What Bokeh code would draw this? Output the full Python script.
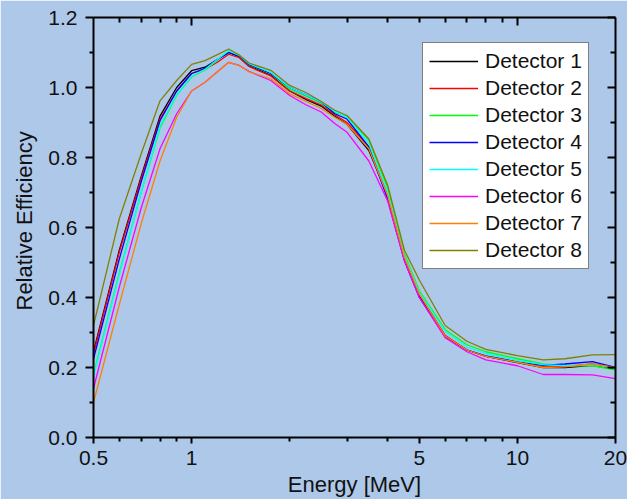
from bokeh.plotting import figure
from bokeh.models import (Range1d, LogAxis, LinearAxis, FixedTicker, CustomJSTickFormatter,
                          PrintfTickFormatter, Legend, LegendItem, Title)
from bokeh.embed import file_html
from bokeh.resources import INLINE

energy = [0.5, 0.6, 0.7, 0.8, 0.9, 1.0, 1.1, 1.2, 1.3, 1.4, 1.5, 1.75, 2.0, 2.25, 2.5, 2.75,
          3.0, 3.5, 4.0, 4.5, 5.0, 6.0, 7.0, 8.0, 10.0, 12.0, 14.0, 17.0, 20.0]

det1 = [0.245, 0.535, 0.745, 0.918, 1.000, 1.048, 1.058, 1.080, 1.100, 1.088, 1.062, 1.035, 0.990, 0.965, 0.947, 0.918,
        0.895, 0.820, 0.690, 0.510, 0.405, 0.290, 0.250, 0.232, 0.214, 0.200, 0.200, 0.206, 0.195]
det2 = [0.240, 0.530, 0.740, 0.910, 0.990, 1.040, 1.052, 1.072, 1.095, 1.085, 1.060, 1.033, 0.990, 0.968, 0.950, 0.922,
        0.900, 0.830, 0.690, 0.515, 0.410, 0.292, 0.250, 0.232, 0.216, 0.202, 0.203, 0.210, 0.200]
det3 = [0.180, 0.470, 0.700, 0.885, 0.978, 1.030, 1.050, 1.078, 1.105, 1.090, 1.065, 1.040, 0.995, 0.975, 0.955, 0.928,
        0.918, 0.850, 0.712, 0.525, 0.420, 0.308, 0.265, 0.245, 0.225, 0.210, 0.205, 0.205, 0.193]
det4 = [0.225, 0.510, 0.730, 0.905, 0.990, 1.040, 1.055, 1.080, 1.100, 1.090, 1.066, 1.040, 1.000, 0.978, 0.958, 0.925,
        0.910, 0.830, 0.680, 0.505, 0.400, 0.288, 0.250, 0.233, 0.216, 0.206, 0.210, 0.217, 0.200]
det5 = [0.175, 0.465, 0.700, 0.890, 0.980, 1.032, 1.052, 1.080, 1.105, 1.092, 1.068, 1.043, 1.000, 0.978, 0.958, 0.932,
        0.915, 0.840, 0.700, 0.520, 0.415, 0.303, 0.258, 0.240, 0.220, 0.208, 0.205, 0.208, 0.198]
det6 = [0.140, 0.430, 0.655, 0.825, 0.925, 0.990, 1.015, 1.045, 1.072, 1.063, 1.046, 1.020, 0.977, 0.950, 0.930, 0.897,
        0.872, 0.790, 0.675, 0.505, 0.400, 0.285, 0.245, 0.222, 0.205, 0.180, 0.180, 0.179, 0.168]
det7 = [0.100, 0.380, 0.610, 0.790, 0.915, 0.990, 1.015, 1.045, 1.072, 1.063, 1.045, 1.025, 0.982, 0.960, 0.940, 0.915,
        0.895, 0.825, 0.690, 0.515, 0.410, 0.290, 0.250, 0.232, 0.215, 0.200, 0.202, 0.210, 0.200]
det8 = [0.320, 0.625, 0.810, 0.962, 1.020, 1.066, 1.077, 1.094, 1.110, 1.093, 1.070, 1.049, 1.006, 0.985, 0.960, 0.935,
        0.920, 0.853, 0.720, 0.535, 0.450, 0.320, 0.275, 0.252, 0.234, 0.222, 0.225, 0.236, 0.237]

series_names = ["Detector 1", "Detector 2", "Detector 3", "Detector 4",
                "Detector 5", "Detector 6", "Detector 7", "Detector 8"]
series_values = [det1, det2, det3, det4, det5, det6, det7, det8]
series_colors = ["#000000", "#ff0000", "#00ff00", "#0000ff",
                 "#00ffff", "#ff00ff", "#ff8000", "#808000"]

x_major = [0.5, 1, 5, 10, 20]
x_minor = [0.6, 0.7, 0.8, 0.9, 2, 3, 4, 6, 7, 8, 9]
y_major = [0.0, 0.2, 0.4, 0.6, 0.8, 1.0, 1.2]
y_minor = [0.1, 0.3, 0.5, 0.7, 0.9, 1.1]

BG = "#aec8ea"
FONT = "Liberation Sans"

p = figure(width=627, height=499, x_axis_type="log",
           x_range=Range1d(0.5, 20), y_range=Range1d(0, 1.2),
           output_backend="svg", toolbar_location=None,
           min_border_left=93, min_border_right=12, min_border_top=17, min_border_bottom=62)
p.background_fill_color = BG
p.border_fill_color = BG
p.outline_line_color = None
p.xgrid.visible = False
p.ygrid.visible = False

# bottom axis
xa = p.xaxis[0]
xa.ticker = FixedTicker(ticks=x_major, minor_ticks=x_minor)
xa.formatter = CustomJSTickFormatter(code="return String(tick);")
xa.axis_label = "Energy [MeV]"
# left axis
ya = p.yaxis[0]
ya.ticker = FixedTicker(ticks=y_major, minor_ticks=y_minor)
ya.formatter = PrintfTickFormatter(format="%.1f")

for ax in (xa, ya):
    ax.axis_line_width = 2
    ax.major_tick_line_width = 2
    ax.minor_tick_line_width = 2
    ax.major_tick_in = 0
    ax.minor_tick_in = 0
    ax.major_tick_out = 8
    ax.minor_tick_out = 4
    ax.major_label_text_font = FONT
    ax.major_label_text_font_size = "21px"
    ax.major_label_text_color = "#111111"
    ax.axis_label_text_font = FONT
    ax.axis_label_text_font_size = "22px"
    ax.axis_label_text_font_style = "normal"
    ax.axis_label_text_color = "#111111"
xa.major_tick_out = 6
xa.major_label_standoff = 7
xa.axis_label_standoff = 4
ya.major_label_standoff = 8

# top and right axes (ticks inward, no labels)
blank = CustomJSTickFormatter(code="return '';")
top = LogAxis(ticker=FixedTicker(ticks=[1, 10], minor_ticks=[0.6, 0.7, 0.8, 0.9, 2, 3, 4, 5, 6, 7, 8, 9]),
              formatter=blank)
right = LinearAxis(ticker=FixedTicker(ticks=y_major, minor_ticks=y_minor), formatter=blank)
for ax in (top, right):
    ax.axis_line_width = 2
    ax.major_tick_line_width = 2
    ax.minor_tick_line_width = 2
    ax.major_tick_in = 8
    ax.minor_tick_in = 5
    ax.major_tick_out = 0
    ax.minor_tick_out = 0
    ax.major_label_standoff = 0
    ax.major_label_text_font_size = "1px"
p.add_layout(top, "above")
p.add_layout(right, "right")

# y axis title, placed in the left panel (outside the tick labels)
ytitle = Title(text="Relative Efficiency", align="left", offset=127, vertical_align="bottom",
               standoff=18, text_font=FONT, text_font_size="22px", text_font_style="normal",
               text_color="#111111")
p.add_layout(ytitle, "left")

items = []
for name, vals, col in zip(series_names, series_values, series_colors):
    r = p.line(energy, vals, line_color=col, line_width=1.3)
    items.append(LegendItem(label=name, renderers=[r]))

legend = Legend(items=items, location=(329, 168))
legend.background_fill_color = "white"
legend.background_fill_alpha = 1
legend.border_line_color = "black"
legend.border_line_width = 1
legend.label_text_font = FONT
legend.label_text_font_size = "21px"
legend.label_text_color = "#111111"
legend.glyph_width = 49
legend.glyph_height = 20
legend.label_height = 20
legend.label_standoff = 7
legend.spacing = 3
legend.padding = 6
legend.margin = 0
p.add_layout(legend, "center")

open("out.html", "w").write(file_html(p, INLINE))
